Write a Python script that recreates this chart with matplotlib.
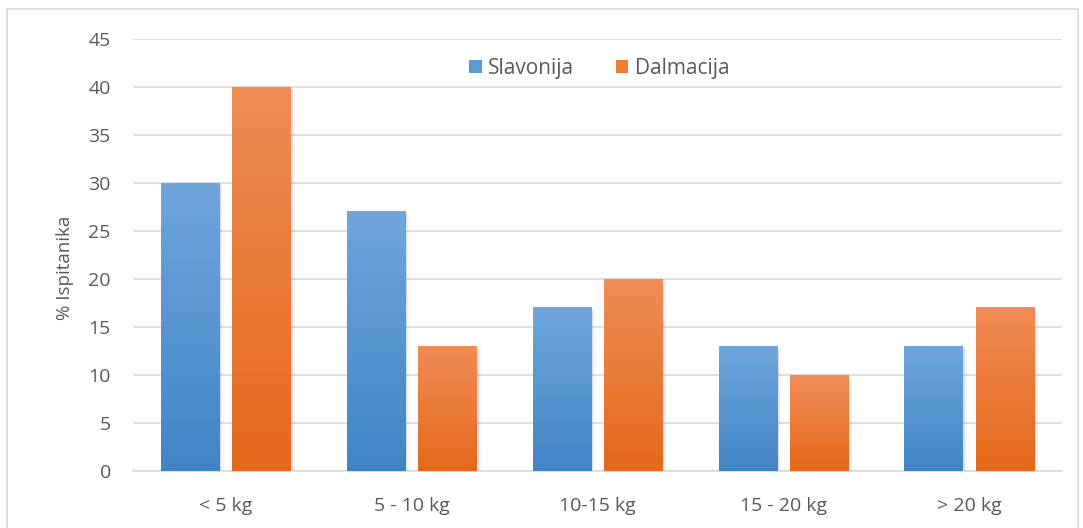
import matplotlib
matplotlib.use("Agg")
import matplotlib.pyplot as plt
import numpy as np
from matplotlib import patheffects as pe
from matplotlib.colors import LinearSegmentedColormap
from matplotlib.patches import Rectangle, Patch

categories = ["< 5 kg", "5 - 10 kg", "10-15 kg", "15 - 20 kg", "> 20 kg"]
slavonija = [30, 27, 17, 13, 13]
dalmacija = [40, 13, 20, 10, 17]
series_names = ["Slavonija", "Dalmacija"]
yticks = [0, 5, 10, 15, 20, 25, 30, 35, 40, 45]

plt.rcParams['font.family'] = ['Open Sans', 'DejaVu Sans']

fig = plt.figure(figsize=(10.83, 5.28), dpi=100)
ax = fig.add_axes([133/1083, 1 - 471/528, (1062-133)/1083, (471-39)/528])

# figure border
fig.patches.append(Rectangle((7/1083, -0.01), (1078-7)/1083, 1 - 9/528 + 0.01,
                             transform=fig.transFigure, fill=False,
                             edgecolor='#d9d9d9', linewidth=1.2, zorder=0))

x = np.arange(len(categories))
w = 0.313
off = 0.192
grad_specs = [("#6fa6dc", "#4184c6"), ("#f08c56", "#e4691a")]
legend_colors = ["#5b9bd5", "#ed7d31"]

for vals, dx, (ctop, cbot), name, lc in zip([slavonija, dalmacija], [-off, off],
                                       grad_specs, series_names, legend_colors):
    bars = ax.bar(x + dx, vals, w, color=lc, zorder=2, label=name,
                  path_effects=[pe.SimplePatchShadow(offset=(1.5, -1.0), alpha=0.12,
                                                     shadow_rgbFace='#444444'),
                                pe.SimplePatchShadow(offset=(3, -2), alpha=0.06,
                                                     shadow_rgbFace='#444444'),
                                pe.Normal()])
    cmap = LinearSegmentedColormap.from_list("g", [cbot, ctop])
    grad = np.linspace(0, 1, 256).reshape(-1, 1)
    for b in bars:
        x0, y0 = b.get_x(), b.get_y()
        bw, bh = b.get_width(), b.get_height()
        ax.imshow(grad, extent=(x0, x0 + bw, y0, y0 + bh), origin='lower',
                  cmap=cmap, aspect='auto', zorder=3, interpolation='bilinear')

ax.set_xlim(-0.5, len(categories) - 0.5)
ax.set_ylim(0, 45)
ax.set_yticks(yticks)
ax.set_xticks(x)
ax.set_xticklabels(categories)
ax.grid(axis='y', color='#d9d9d9', linewidth=1.2, zorder=0)
ax.set_axisbelow(True)
for s in ['top', 'right', 'left']:
    ax.spines[s].set_visible(False)
ax.spines['bottom'].set_color('#d9d9d9')
ax.spines['bottom'].set_linewidth(1.2)
ax.tick_params(axis='both', length=0, labelsize=14, colors='#595959')
ax.tick_params(axis='x', pad=19)
ax.tick_params(axis='y', pad=16)
ax.set_ylabel("% Ispitanika", fontsize=13.5, color='#595959')
ax.yaxis.set_label_coords(-0.063, 0.47)

handles = [Patch(facecolor=c, edgecolor='none') for c in legend_colors]
ax.legend(handles, series_names, loc='upper center', bbox_to_anchor=(0.502, 1.0),
          ncol=2, frameon=False, fontsize=15, labelcolor='#595959',
          handlelength=0.6, handleheight=0.6, handletextpad=0.3, columnspacing=2.0)

fig.savefig("out.png", dpi=100)
